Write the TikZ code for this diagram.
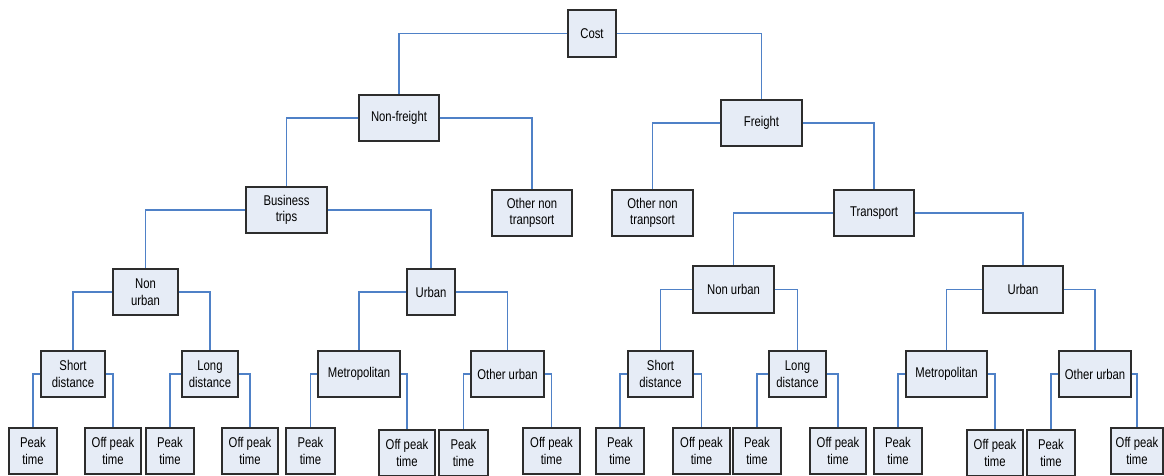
\documentclass[tikz,border=0pt]{standalone}
\usepackage{fontspec}
\setmainfont{Liberation Sans}[FakeStretch=0.8]
\definecolor{boxfill}{RGB}{230,236,246}
\definecolor{boxline}{RGB}{45,45,45}
\definecolor{connline}{RGB}{79,129,199}
\tikzset{
  box/.style={draw=boxline, fill=boxfill, line width=0.9pt, inner sep=0pt, align=center,
    font=\fontsize{10.6}{12.5}\selectfont},
  conn/.style={draw=connline, line width=0.8pt}
}
\newcommand\mybox[6]{%
  \node[box, minimum width={(#4-#2)*0.75pt}, minimum height={(#5-#3)*0.75pt}]
    (#1) at ({(#2+#4)/2},{(#3+#5)/2}) {#6};}
\begin{document}
\begin{tikzpicture}[x=0.75pt,y=-0.75pt]
\useasboundingbox (0,0) rectangle (1164,475);
% connectors first (behind boxes) -- use coordinates of box names after creation via layers
\mybox{cost}{568}{10}{616}{57}{Cost}
\mybox{nf}{359}{95}{439}{141}{Non-freight}
\mybox{fr}{721}{100}{802}{146}{Freight}
\mybox{bt}{246}{187}{327}{233}{Business\\trips}
\mybox{onl}{492}{190}{572}{236}{Other non\\tranpsort}
\mybox{onr}{612}{190}{693}{236}{Other non\\tranpsort}
\mybox{tr}{834}{190}{914}{236}{Transport}
\mybox{nua}{113}{269}{178}{315}{Non\\urban}
\mybox{ua}{407}{269}{455}{315}{Urban}
\mybox{nub}{693}{266}{774}{313}{Non urban}
\mybox{ub}{983}{266}{1063}{313}{Urban}
\mybox{sda}{41}{351}{105}{397}{Short\\distance}
\mybox{lda}{182}{351}{238}{397}{Long\\distance}
\mybox{ma}{318}{351}{400}{397}{Metropolitan}
\mybox{oua}{471}{351}{544}{397}{Other urban}
\mybox{sdb}{628}{351}{693}{397}{Short\\distance}
\mybox{ldb}{769}{351}{826}{397}{Long\\distance}
\mybox{mb}{906}{351}{987}{397}{Metropolitan}
\mybox{oub}{1059}{351}{1131}{397}{Other urban}
\mybox{pa}{9}{428}{57}{474}{Peak\\time}
\mybox{oa}{85}{428}{141}{474}{Off peak\\time}
\mybox{pb}{146}{428}{194}{474}{Peak\\time}
\mybox{ob}{222}{428}{278}{474}{Off peak\\time}
\mybox{pc}{286}{428}{335}{474}{Peak\\time}
\mybox{oc}{379}{430}{435}{476}{Off peak\\time}
\mybox{pd}{439}{430}{488}{476}{Peak\\time}
\mybox{od}{523}{428}{580}{474}{Off peak\\time}
\mybox{pe}{596}{428}{644}{474}{Peak\\time}
\mybox{oe}{673}{428}{730}{474}{Off peak\\time}
\mybox{pf}{733}{428}{781}{474}{Peak\\time}
\mybox{of}{810}{428}{866}{474}{Off peak\\time}
\mybox{pg}{874}{428}{922}{474}{Peak\\time}
\mybox{og}{967}{430}{1023}{476}{Off peak\\time}
\mybox{ph}{1027}{430}{1075}{476}{Peak\\time}
\mybox{oh}{1111}{428}{1163}{474}{Off peak\\time}
% connectors
\foreach \p/\l/\r in {cost/nf/fr, nf/bt/onl, fr/onr/tr, bt/nua/ua, tr/nub/ub,
  nua/sda/lda, ua/ma/oua, nub/sdb/ldb, ub/mb/oub,
  sda/pa/oa, lda/pb/ob, ma/pc/oc, oua/pd/od,
  sdb/pe/oe, ldb/pf/of, mb/pg/og, oub/ph/oh}{
  \draw[conn] (\p.west) -| (\l.north);
  \draw[conn] (\p.east) -| (\r.north);
}
\end{tikzpicture}
\end{document}
